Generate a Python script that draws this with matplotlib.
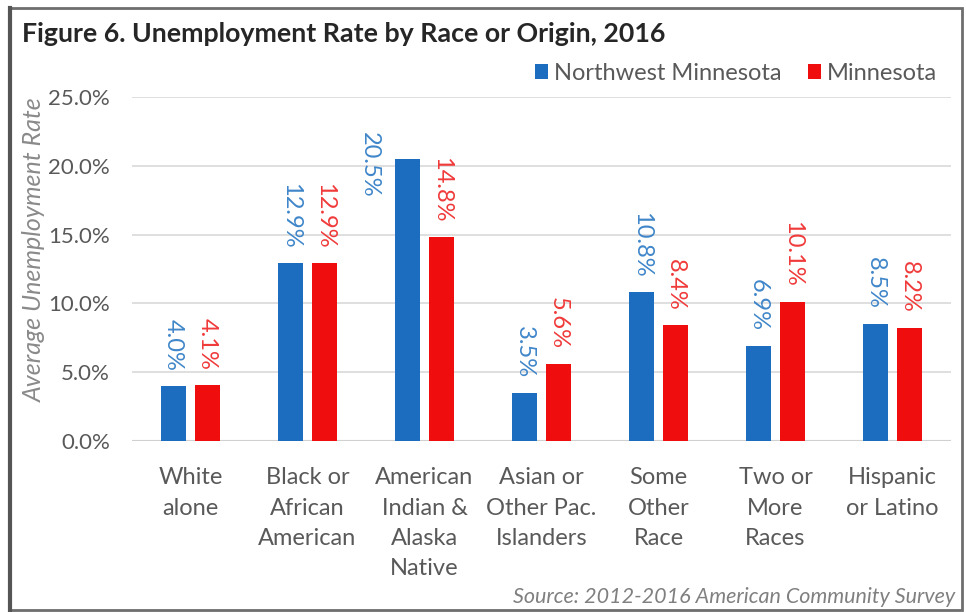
import matplotlib
matplotlib.use("Agg")
import matplotlib.pyplot as plt
from matplotlib.patches import Patch, Rectangle
import numpy as np

categories = ["White\nalone", "Black or\nAfrican\nAmerican", "American\nIndian &\nAlaska\nNative",
              "Asian or\nOther Pac.\nIslanders", "Some\nOther\nRace", "Two or\nMore\nRaces",
              "Hispanic\nor Latino"]
northwest = [4.0, 12.9, 20.5, 3.5, 10.8, 6.9, 8.5]
minnesota = [4.1, 12.9, 14.8, 5.6, 8.4, 10.1, 8.2]
series_names = ["Northwest Minnesota", "Minnesota"]
yticks = [0, 5, 10, 15, 20, 25]

FONT = "Lato"
plt.rcParams['font.family'] = [FONT, 'DejaVu Sans']

W, H = 966, 612
fig = plt.figure(figsize=(W / 100, H / 100), dpi=100)
fig.patch.set_facecolor("white")

def fx(px):
    return px / W

def fy(py):
    return 1 - py / H

left, right, top, bottom = 132, 951, 97, 441
ax = fig.add_axes([fx(left), fy(bottom), fx(right - left), (bottom - top) / H])

blue = "#1C6CBF"
red = "#F00D0D"
blue_lbl = "#3F86C9"
red_lbl = "#F03A3A"
gray_txt = "#595959"

x = np.arange(len(categories))
bw = 0.215
off = 0.145
ax.bar(x - off, northwest, bw, color=blue, zorder=3)
ax.bar(x + off, minnesota, bw, color=red, zorder=3)

ax.set_xlim(-0.5, len(categories) - 0.5)
ax.set_ylim(0, 25)
ax.set_yticks(yticks)
ax.set_yticklabels([f"{t:.1f}%" for t in yticks])
ax.grid(axis="y", color="#d9d9d9", linewidth=1.2, zorder=0)
for s in ax.spines.values():
    s.set_visible(False)
ax.axhline(0, color="#d0d0d0", linewidth=1.5, zorder=2)
ax.set_xticks(x)
ax.set_xticklabels(categories, linespacing=1.55)
ax.tick_params(axis="both", length=0, labelcolor=gray_txt)
ax.tick_params(axis="x", pad=19, labelsize=17)
ax.tick_params(axis="y", pad=16, labelsize=16)

ax.set_ylabel("Average Unemployment Rate", fontsize=18, style="italic", color="#8a8a8a")
ax.yaxis.set_label_coords((46 - left) / (right - left), 0.555)

def label_bars(vals, xs, color):
    for xi, v in zip(xs, vals):
        txt = f"{v:.1f}%"
        if v > 19:
            ax.annotate(txt, (xi, v), xytext=(-38, -6), textcoords="offset pixels",
                        rotation=270, ha="center", va="center", fontsize=17, color=color, zorder=4)
        else:
            ax.annotate(txt, (xi, v), xytext=(0, 15), textcoords="offset pixels",
                        rotation=270, ha="center", va="bottom", fontsize=17, color=color, zorder=4)

label_bars(northwest, x - off, blue_lbl)
label_bars(minnesota, x + off, red_lbl)

fig.text(fx(22), fy(34), "Figure 6. Unemployment Rate by Race or Origin, 2016",
         fontsize=19.3, weight="bold", color="#262626", va="center", ha="left")

handles = [Patch(facecolor=blue), Patch(facecolor=red)]
fig.legend(handles, series_names, loc="center right", bbox_to_anchor=(fx(946), fy(73)),
           ncol=2, frameon=False, fontsize=17, handlelength=0.55, handleheight=0.6,
           handletextpad=0.25, columnspacing=1.1, labelcolor=gray_txt, borderaxespad=0)

fig.text(fx(955), fy(597), "Source: 2012-2016 American Community Survey",
         fontsize=15.5, style="italic", color="#808080", ha="right", va="center")

fig.patches.append(Rectangle((fx(9), fy(610)), fx(962 - 9), (610 - 8) / H,
                             transform=fig.transFigure, fill=False,
                             edgecolor="#6e6e6e", linewidth=2))
fig.add_artist(plt.Line2D([fx(10), fx(10)], [fy(610), fy(8)], transform=fig.transFigure,
                          color="#555555", linewidth=3))

fig.savefig("out.png", dpi=100)
